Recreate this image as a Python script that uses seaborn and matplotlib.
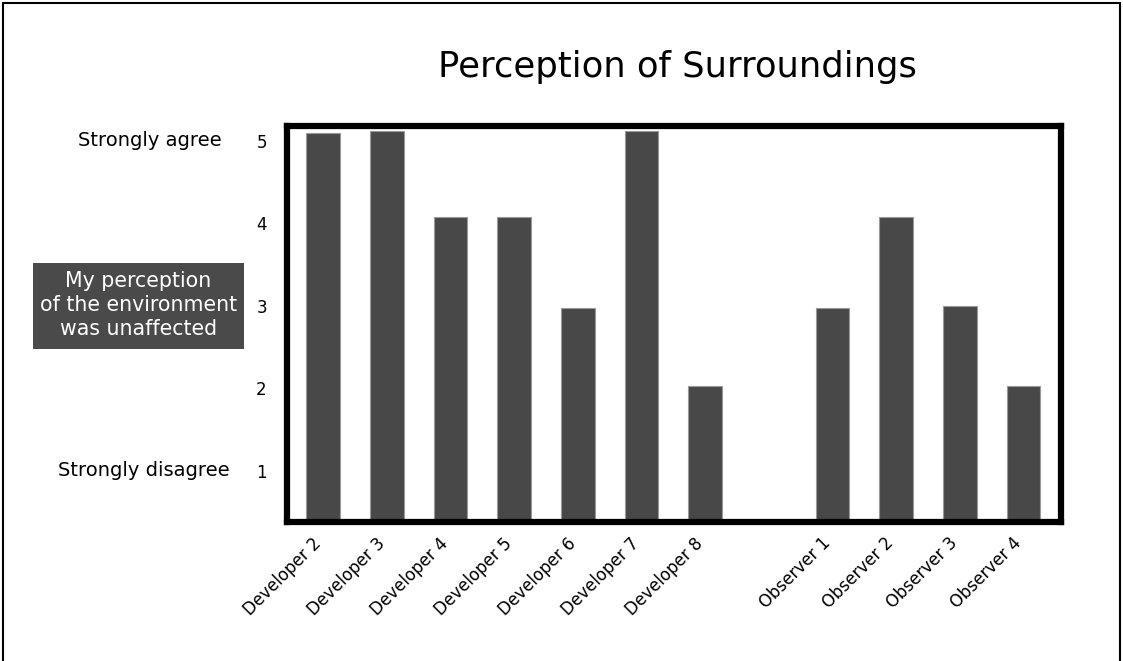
import matplotlib
matplotlib.use("Agg")
import matplotlib.pyplot as plt
import matplotlib.transforms as mtransforms
from matplotlib.lines import Line2D
from matplotlib.patches import Rectangle
import pandas as pd
import seaborn as sns

# data
developers = ["Developer 2", "Developer 3", "Developer 4", "Developer 5",
              "Developer 6", "Developer 7", "Developer 8"]
observers = ["Observer 1", "Observer 2", "Observer 3", "Observer 4"]
developer_scores = [5.09, 5.12, 4.08, 4.08, 2.98, 5.12, 2.03]
observer_scores = [2.98, 4.08, 3.0, 2.03]
score_ticks = [1, 2, 3, 4, 5]
score_labels = ["1", "2", "3", "4", "5"]

df = pd.DataFrame({"participant": developers + observers,
                   "score": developer_scores + observer_scores})
# empty slot between the two groups
order = developers + [" "] + observers

sns.set_theme(style="white")
plt.rcParams["font.family"] = ["DejaVu Sans"]
plt.rcParams["text.color"] = "black"
plt.rcParams["xtick.color"] = "black"
plt.rcParams["ytick.color"] = "black"

fig = plt.figure(figsize=(11.23, 6.61), dpi=100)
ax = fig.add_axes([287 / 1123, 1 - 522 / 661, 774 / 1123, 396 / 661])

sns.barplot(data=df, x="participant", y="score", order=order, color="#484848",
            saturation=1, width=0.53, edgecolor="#9a9a9a", linewidth=0.8, ax=ax)

ax.set_xlim(-0.57, 11.59)
ax.set_ylim(0.38, 5.18)
ax.set_yticks(score_ticks)
ax.set_yticklabels(score_labels, fontsize=12)
ax.set_xlabel("")
ax.set_ylabel("")
ax.tick_params(axis="both", length=0, colors="black")
ax.tick_params(axis="y", pad=14.5)
ax.tick_params(axis="x", pad=12)
shift = mtransforms.ScaledTranslation(-5 / 100, -2 / 100, fig.dpi_scale_trans)
for lab in ax.get_xticklabels():
    lab.set_rotation(45)
    lab.set_ha("right")
    lab.set_va("center")
    lab.set_rotation_mode("anchor")
    lab.set_fontsize(12)
    lab.set_transform(lab.get_transform() + shift)
for s in ax.spines.values():
    s.set_visible(True)
    s.set_color("black")
    s.set_linewidth(4.5)

fig.text(677 / 1123, 1 - 67 / 661, "Perception of Surroundings", fontsize=25.5,
         ha="center", va="center", color="black")

# left side labels of the scale
trans = mtransforms.blended_transform_factory(fig.transFigure, ax.transData)
ax.text(222 / 1123, 5, "Strongly agree", transform=trans, ha="right",
        va="center", fontsize=14, clip_on=False, color="black")
ax.text(230 / 1123, 1, "Strongly disagree", transform=trans, ha="right",
        va="center", fontsize=14, clip_on=False, color="black")
fig.add_artist(Rectangle((33 / 1123, 1 - 349 / 661), 211 / 1123, 86 / 661,
                         transform=fig.transFigure, facecolor="#4a4a4a",
                         edgecolor="none"))
fig.text(138.5 / 1123, 1 - 305 / 661,
         "My perception\nof the environment\nwas unaffected",
         color="white", fontsize=14.8, ha="center", va="center",
         linespacing=1.25)

# outer border of the picture
for xs, ys in [([3 / 1123, 3 / 1123], [0, 1 - 3 / 661]),
               ([3 / 1123, 1120 / 1123], [1 - 3 / 661, 1 - 3 / 661]),
               ([1120 / 1123, 1120 / 1123], [0, 1 - 3 / 661])]:
    fig.add_artist(Line2D(xs, ys, transform=fig.transFigure, color="black",
                          linewidth=1.5))

fig.savefig("out.png", dpi=100)
